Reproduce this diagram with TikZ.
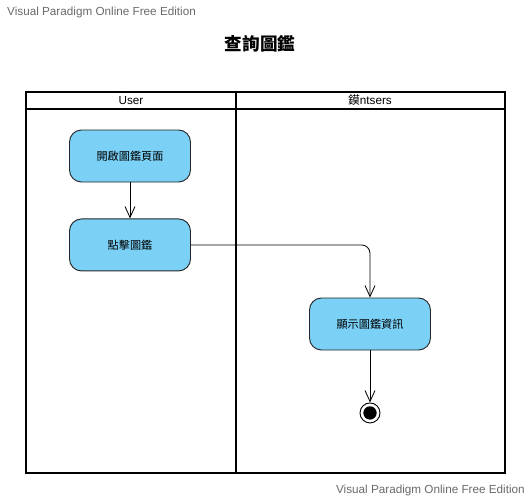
\documentclass[tikz,border=0pt]{standalone}
\usepackage{fontspec}
\setmainfont{Liberation Sans}
\newfontfamily\cjk{Noto Sans CJK TC}
\usetikzlibrary{arrows.meta, positioning}
\definecolor{actblue}{RGB}{122,208,245}
\definecolor{wmgray}{RGB}{105,105,105}
\tikzstyle{action} = [rectangle, rounded corners=0.36cm, minimum width=3.63cm, minimum height=1.56cm, text centered, fill=actblue, draw=black!85, line width=0.8pt, font=\cjk\fontsize{9.5}{11}\selectfont]
\tikzstyle{endstate} = [circle, draw=black, line width=0.8pt, minimum size=0.6cm, inner sep=0pt, path picture={\fill (path picture bounding box.center) circle (0.2cm);}]
\tikzstyle{lane} = [line width=1.6pt]
\tikzstyle{lanetitle} = [font=\fontsize{10}{12}\selectfont]
\tikzstyle{watermark} = [text=wmgray, font=\fontsize{10}{12}\selectfont, inner sep=0pt]
\tikzstyle{arrow} = [line width=0.7pt,->,>={Straight Barb[length=0.33cm,width=0.3cm]}]

\begin{document}
\begin{tikzpicture}[x=0.03cm, y=-0.03cm]
\useasboundingbox (0,0) rectangle (531,500);

% Watermarks and title
\node (wmtop) [watermark, anchor=west] at (7,12) {Visual Paradigm Online Free Edition};
\node (wmbottom) [watermark, anchor=east] at (525,490) {Visual Paradigm Online Free Edition};
\node (title) [font=\cjk\bfseries\fontsize{15}{18}\selectfont] at (260,44) {查詢圖鑑};

% Swimlanes
\draw[lane] (26,92) rectangle (505,473);
\draw[lane] (26,109) -- (505,109);
\draw[lane] (236,92) -- (236,473);
\node (userlane) [lanetitle] at (131,100.5) {User};
\node (otherlane) [lanetitle] at (370,100.5) {{\cjk 鏌}ntsers};

% Actions
\node (open) [action] at (130,156) {開啟圖鑑頁面};
\node (click) [action, below=1.08cm of open] {點擊圖鑑};
\node (show) [action] at (370,324) {顯示圖鑑資訊};
\node (final) [endstate, below=1.56cm of show] {};

\draw[arrow] (open) -- (click);
\draw[arrow, rounded corners=0.25cm] (click.east) -| (show.north);
\draw[arrow] (show) -- (final);

\end{tikzpicture}
\end{document}
